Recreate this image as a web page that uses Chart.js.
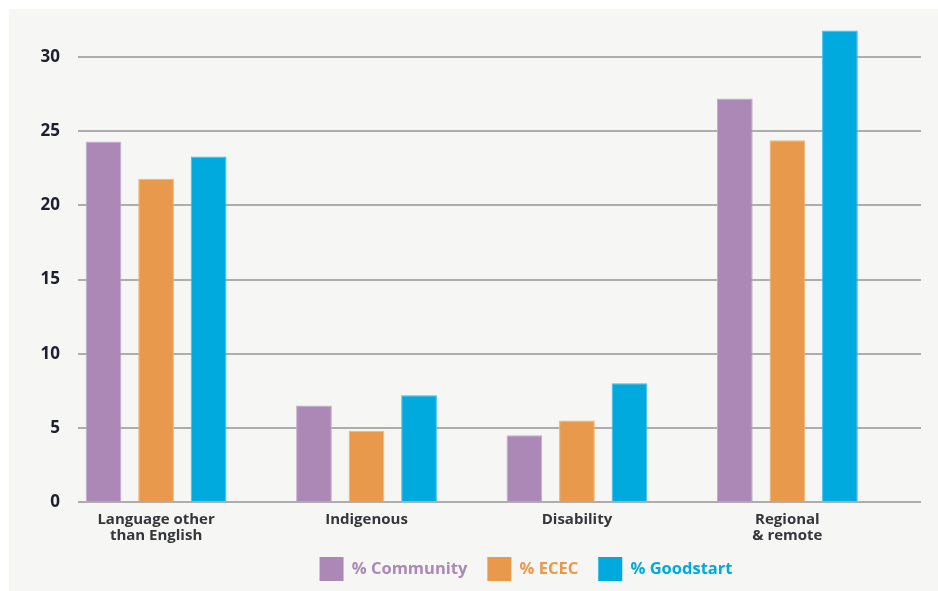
<!DOCTYPE html>
<html>
<head>
<meta charset="utf-8">
<script src="https://cdn.jsdelivr.net/npm/chart.js@4.4.1/dist/chart.umd.min.js"></script>
<style>
  html, body { margin: 0; padding: 0; background: #ffffff; overflow: hidden; }
  #panel { position: absolute; left: 9px; top: 9px; width: 929px; height: 597px; background: #f6f6f4; }
</style>
</head>
<body>
<div id="panel"><canvas id="myChart"></canvas></div>
<script>
// chart data
var categories = [['Language other', 'than English'], 'Indigenous', 'Disability', ['Regional', '& remote']];
var seriesNames = ['% Community', '% ECEC', '% Goodstart'];
var community = [24.3, 6.5, 4.5, 27.2];
var ecec = [21.8, 4.8, 5.5, 24.4];
var goodstart = [23.3, 7.2, 8.0, 31.8];
var yTicks = [0, 5, 10, 15, 20, 25, 30];

var colors = ['#ab88b5', '#e8994b', '#00a9de'];
var borders = ['#c4abcb', '#f0b579', '#3cbfe8'];

function toPoints(values) {
    return values.map(function (v, i) { return { x: i, y: v }; });
}

// legend sits right of centre and tight under the labels in the original
var shiftLegend = {
    id: 'shiftLegend',
    afterLayout: function (chart) {
        chart.legend.left += 61;
        chart.legend.right += 61;
        chart.legend.top -= 15;
        chart.legend.bottom -= 15;
    }
};

var ctx = document.getElementById('myChart').getContext('2d');
var myChart = new Chart(ctx, {
    type: 'bar',
    data: {
        datasets: [community, ecec, goodstart].map(function (vals, i) {
            return {
                label: seriesNames[i],
                data: toPoints(vals),
                backgroundColor: colors[i],
                borderColor: borders[i],
                borderWidth: 1,
                categoryPercentage: 0.749,
                barPercentage: 0.68
            };
        })
    },
    options: {
        responsive: true,
        maintainAspectRatio: false,
        animation: false,
        layout: { padding: { top: 11, right: 17, left: 0, bottom: 0 } },
        plugins: {
            tooltip: { enabled: false },
            legend: {
                position: 'bottom',
                labels: {
                    boxWidth: 24,
                    boxHeight: 24,
                    padding: 20,
                    font: { family: 'Open Sans', size: 16.5, weight: 'bold' },
                    generateLabels: function (chart) {
                        return chart.data.datasets.map(function (ds, i) {
                            return {
                                text: ds.label,
                                fillStyle: ds.backgroundColor,
                                strokeStyle: ds.backgroundColor,
                                fontColor: ds.backgroundColor,
                                lineWidth: 0,
                                datasetIndex: i
                            };
                        });
                    }
                }
            }
        },
        scales: {
            x: {
                type: 'linear',
                offset: false,
                min: -0.371,
                max: 3.635,
                grid: { display: false, drawTicks: false },
                border: { display: false },
                afterFit: function (s) {
                    s.height = 50;
                    s.paddingLeft = 0;
                    s.paddingRight = 0;
                },
                ticks: {
                    stepSize: 1,
                    includeBounds: false,
                    autoSkip: false,
                    maxRotation: 0,
                    padding: 9,
                    color: '#35363a',
                    font: { family: 'Open Sans', size: 15, weight: 'bold', lineHeight: 1.1 },
                    callback: function (value) {
                        return Number.isInteger(value) ? categories[value] : '';
                    }
                }
            },
            y: {
                min: 0,
                max: 32.5,
                afterFit: function (s) {
                    s.width = 69;
                    s.paddingTop = 0;
                    s.paddingBottom = 0;
                },
                afterBuildTicks: function (s) {
                    s.ticks = yTicks.map(function (v) { return { value: v }; });
                },
                grid: { color: '#adadad', lineWidth: 2, drawTicks: false },
                border: { display: false },
                ticks: {
                    padding: 18,
                    color: '#1d1f2e',
                    font: { family: 'Open Sans', size: 17, weight: 'bold' }
                }
            }
        }
    },
    plugins: [shiftLegend]
});
</script>
</body>
</html>
